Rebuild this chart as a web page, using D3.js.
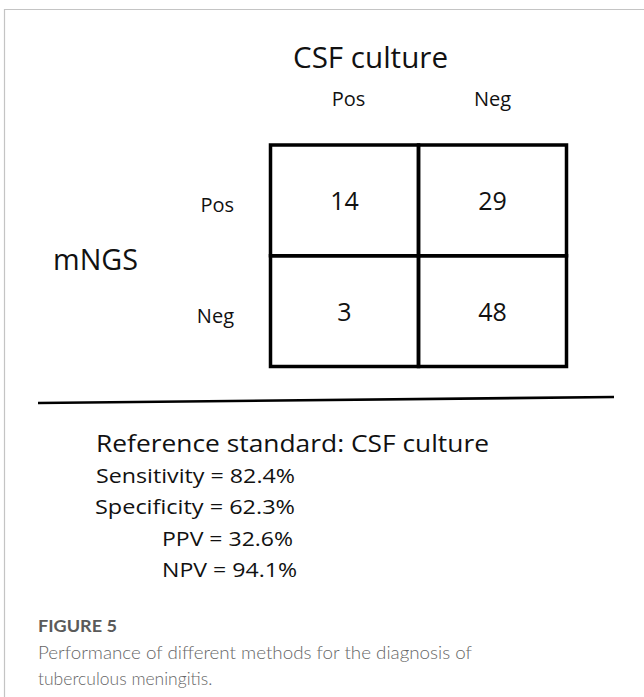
<!DOCTYPE html>
<html>
<head>
<meta charset="utf-8">
<script src="https://cdn.jsdelivr.net/npm/d3@7"></script>
<style>
  body { margin: 0; background: #fff; }
</style>
</head>
<body>
<div id="fig"></div>
<script>
// contingency table: mNGS vs CSF culture
var colLabels = ["Pos", "Neg"];
var rowLabels = ["Pos", "Neg"];
var counts = [[14, 29], [3, 48]];

var metricNames = ["Sensitivity", "Specificity", "PPV", "NPV"];
var metricValues = [82.4, 62.3, 32.6, 94.1];

var colTitle = "CSF culture";
var rowTitle = "mNGS";
var refText = "Reference standard: CSF culture";
var figLabel = "FIGURE 5";
var captionLines = ["Performance of different methods for the diagnosis of", "tuberculous meningitis."];

var W = 644, H = 697;
var font = "'Open Sans', sans-serif";

var svg = d3.select("#fig").append("svg")
    .attr("width", W)
    .attr("height", H);

// squeeze a text node so it spans the given width
function fit(sel, w) {
    sel.each(function() {
        var len = this.getComputedTextLength();
        if (len > 0 && Math.abs(len - w) > 1) {
            d3.select(this).attr("textLength", w).attr("lengthAdjust", "spacingAndGlyphs");
        }
    });
}

// light frame on top and left
svg.append("path")
    .attr("d", "M4.5," + H + "V9.5H" + W)
    .attr("fill", "none")
    .attr("stroke", "#c4c4c4")
    .attr("stroke-width", 1.2);

var x = d3.scaleBand().domain(colLabels).range([270.5, 566.5]);
var y = d3.scaleBand().domain(rowLabels).range([145, 366.5]);

var cells = [];
rowLabels.forEach(function(r, i) {
    colLabels.forEach(function(c, j) {
        cells.push({row: r, col: c, value: counts[i][j]});
    });
});

svg.selectAll("rect.cell")
    .data(cells)
    .enter().append("rect")
    .attr("class", "cell")
    .attr("x", function(d) { return x(d.col); })
    .attr("y", function(d) { return y(d.row); })
    .attr("width", x.bandwidth())
    .attr("height", y.bandwidth())
    .attr("fill", "none")
    .attr("stroke", "#000")
    .attr("stroke-width", 3.5);

svg.selectAll("text.count")
    .data(cells)
    .enter().append("text")
    .attr("class", "count")
    .attr("x", function(d) { return x(d.col) + x.bandwidth() / 2; })
    .attr("y", function(d) { return y(d.row) + y.bandwidth() / 2 + 9.5; })
    .attr("text-anchor", "middle")
    .style("font-family", font)
    .style("font-size", "25px")
    .attr("fill", "#111")
    .text(function(d) { return d.value; });

// column headers
svg.selectAll("text.colhead")
    .data(colLabels)
    .enter().append("text")
    .attr("class", "colhead")
    .attr("x", function(d) { return x(d) + x.bandwidth() / 2 + (d == "Pos" ? 4 : 0); })
    .attr("y", 106)
    .attr("text-anchor", "middle")
    .style("font-family", font)
    .style("font-size", "20px")
    .attr("fill", "#111")
    .text(function(d) { return d; });

// row headers
svg.selectAll("text.rowhead")
    .data(rowLabels)
    .enter().append("text")
    .attr("class", "rowhead")
    .attr("x", 234)
    .attr("y", function(d) { return y(d) + y.bandwidth() / 2 + 11.5; })
    .attr("text-anchor", "end")
    .style("font-family", font)
    .style("font-size", "20px")
    .attr("fill", "#111")
    .text(function(d) { return d; });

svg.append("text")
    .attr("x", 293).attr("y", 68)
    .style("font-family", font).style("font-size", "30px")
    .attr("fill", "#111")
    .text(colTitle)
    .call(fit, 155);

svg.append("text")
    .attr("x", 53).attr("y", 270)
    .style("font-family", font).style("font-size", "30px")
    .attr("fill", "#111")
    .text(rowTitle)
    .call(fit, 85);

// separator
svg.append("line")
    .attr("x1", 38).attr("y1", 403)
    .attr("x2", 614).attr("y2", 397)
    .attr("stroke", "#000")
    .attr("stroke-width", 2.6);

svg.append("text")
    .attr("x", 96).attr("y", 452)
    .style("font-family", font).style("font-size", "24px")
    .attr("fill", "#111")
    .text(refText)
    .call(fit, 393);

var metricX = [96, 95, 162, 162];
var metricY = [483, 514, 546, 577];
var metricR = [295, 295, 293, 297];

svg.selectAll("text.metric")
    .data(metricNames)
    .enter().append("text")
    .attr("class", "metric")
    .attr("x", function(d, i) { return metricX[i]; })
    .attr("y", function(d, i) { return metricY[i]; })
    .style("font-family", font).style("font-size", "20.5px")
    .attr("fill", "#111")
    .text(function(d, i) { return d + " = " + metricValues[i].toFixed(1) + "%"; })
    .each(function(d, i) { d3.select(this).call(fit, metricR[i] - metricX[i]); });

// caption
var capFont = "Lato, 'Noto Sans', sans-serif";
svg.append("text")
    .attr("x", 38).attr("y", 632)
    .style("font-family", capFont).style("font-size", "17px")
    .style("font-weight", "bold")
    .attr("fill", "#5a5a5a")
    .text(figLabel)
    .call(fit, 79);

svg.selectAll("text.cap")
    .data(captionLines)
    .enter().append("text")
    .attr("class", "cap")
    .attr("x", 38)
    .attr("y", function(d, i) { return 659 + i * 25.5; })
    .style("font-family", capFont).style("font-size", "17.5px")
    .style("font-weight", 300)
    .attr("fill", "#666")
    .text(function(d) { return d; })
    .each(function(d, i) { if (i == 0) d3.select(this).call(fit, 434); });
</script>
</body>
</html>
